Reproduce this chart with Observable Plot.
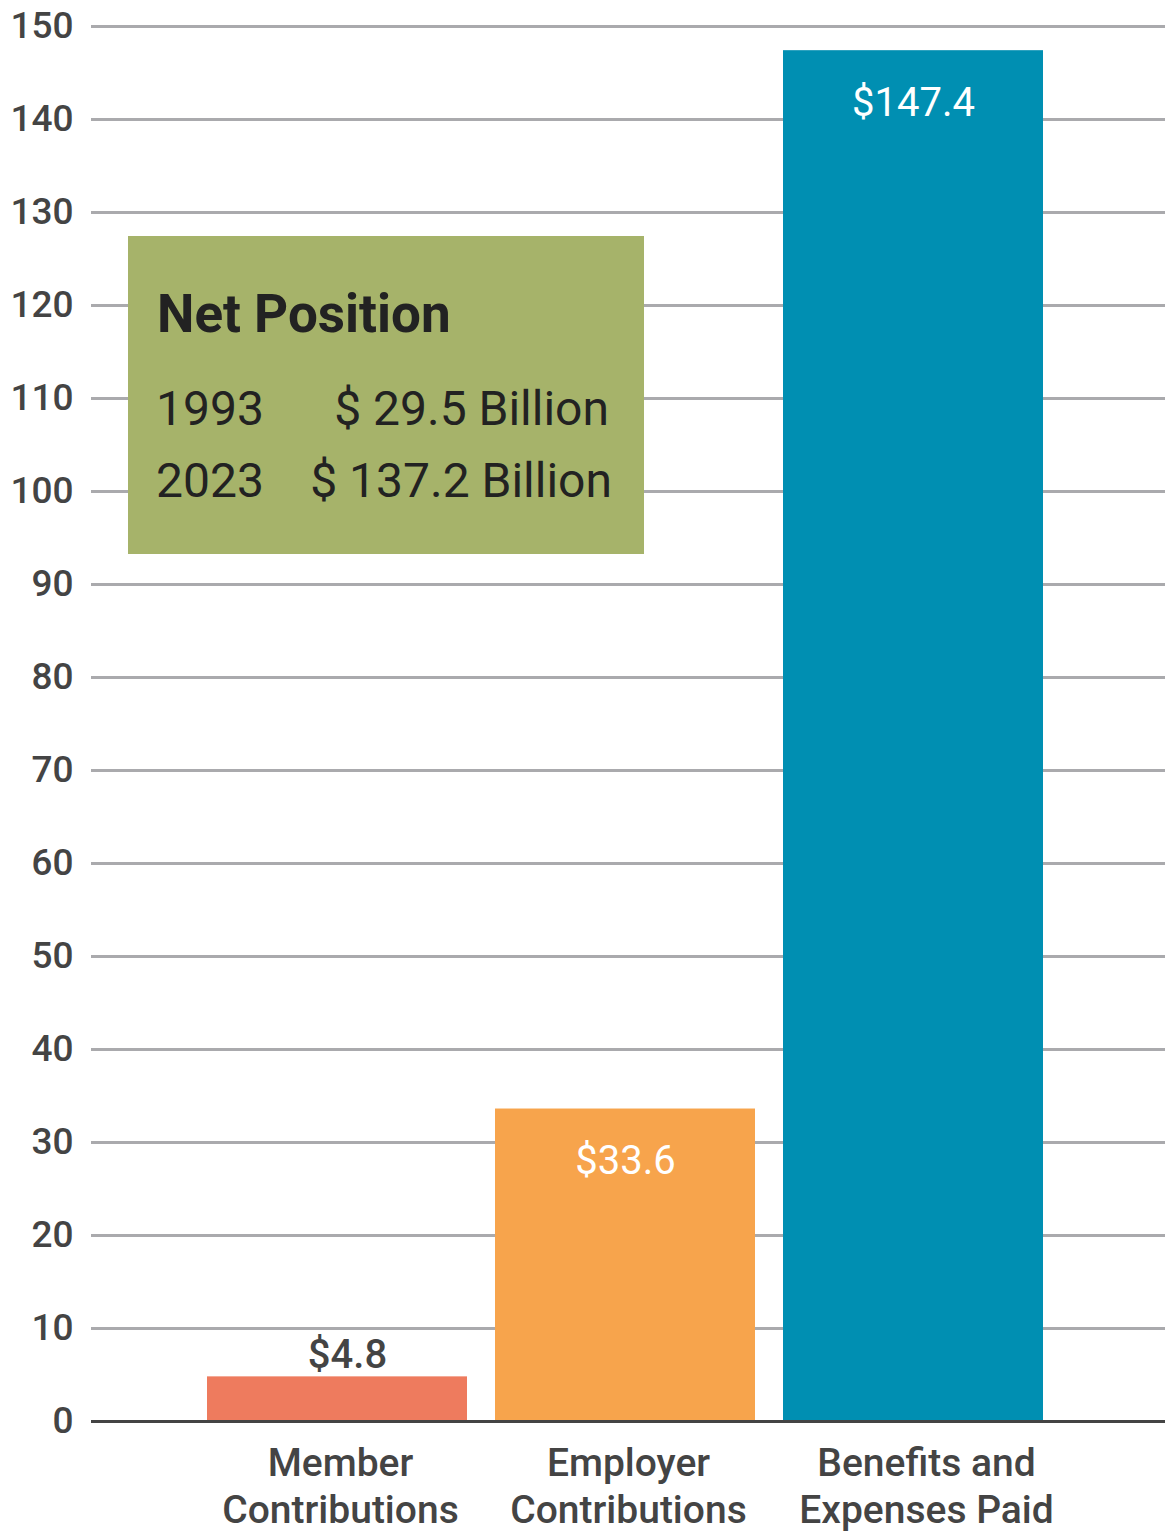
<!DOCTYPE html>
<html>
<head>
<meta charset="utf-8">
<script src="https://cdn.jsdelivr.net/npm/d3@7"></script>
<script src="https://cdn.jsdelivr.net/npm/@observablehq/plot@0.6"></script>
<style>
  html, body { margin: 0; padding: 0; background: #fff; }
  #wrap { position: relative; width: 1165px; height: 1531px; font-family: Roboto, "Noto Sans", sans-serif; }
  #wrap svg { display: block; }
  #box { position: absolute; left: 128px; top: 236px; width: 516px; height: 318px; background: #a6b36a; }
</style>
</head>
<body>
<div id="wrap"></div>
<script>
// ---- data ----
const categories = ["Member Contributions", "Employer Contributions", "Benefits and Expenses Paid"];
const categoryLabels = ["Member\nContributions", "Employer\nContributions", "Benefits and\nExpenses Paid"];
const values = [4.8, 33.6, 147.4];
const valueLabels = ["$4.8", "$33.6", "$147.4"];
const barColors = ["#ee7b5e", "#f7a44c", "#008fb2"];
const yTicks = [0, 10, 20, 30, 40, 50, 60, 70, 80, 90, 100, 110, 120, 130, 140, 150];
const netTitle = "Net Position";
const netYears = ["1993", "2023"];
const netAmounts = ["$ 29.5 Billion", "$ 137.2 Billion"];

const rows = categories.map((c, i) => ({
  category: c, label: categoryLabels[i], value: values[i], text: valueLabels[i], color: barColors[i]
}));

const chart = Plot.plot({
  width: 1165,
  height: 1531,
  marginTop: 26,
  marginBottom: 110,
  marginLeft: 91,
  marginRight: 0,
  style: { fontFamily: "Roboto, sans-serif", background: "#fff" },
  x: { type: "band", domain: categories, range: [193, 1057], paddingInner: 28 / 288, paddingOuter: 14 / 288, axis: null },
  y: { domain: [0, 150], axis: null },
  color: { type: "identity" },
  marks: [
    Plot.ruleY(yTicks.filter(t => t > 0), { y: d => d, stroke: "#aaaaad", strokeWidth: 3 }),
    Plot.axisY(yTicks, { label: null, tickSize: 0, tickPadding: 18, fontSize: 37, fontWeight: 500, fill: "#444", tickFormat: d => String(d) }),
    Plot.barY(rows, { x: "category", y: "value", fill: "color" }),
    Plot.ruleY([0], { stroke: "#444", strokeWidth: 3 }),
    Plot.text(rows.filter(d => d.value < 10), { x: "category", y: "value", text: "text", lineAnchor: "bottom", dy: -9, dx: 10, fontSize: 40, fontWeight: 500, fill: "#444" }),
    Plot.text(rows.filter(d => d.value >= 10), { x: "category", y: "value", text: "text", lineAnchor: "bottom", dy: 65, fontSize: 40, fill: "#fff" }),
    Plot.text(rows.slice(0, 2), { x: "category", y: () => 0, text: "label", lineAnchor: "top", dy: 21, dx: 3, fontSize: 39, fontWeight: 500, lineHeight: 1.2, fill: "#444" }),
    Plot.text(rows.slice(2), { x: "category", y: () => 0, text: "label", lineAnchor: "top", dy: 21, dx: 13, fontSize: 39, fontWeight: 500, lineHeight: 1.2, fill: "#444" })
  ]
});

const wrap = document.getElementById("wrap");
wrap.appendChild(chart);

// Net Position annotation box
const box = document.createElement("div");
box.id = "box";
const svg = d3.create("svg").attr("width", 516).attr("height", 318)
  .style("font-family", "Roboto, sans-serif");
svg.append("text").attr("x", 29).attr("y", 96).attr("font-size", 53).attr("font-weight", 700)
  .attr("fill", "#222").text(netTitle);
netYears.forEach((yr, i) => {
  const base = 189 + i * 72;
  svg.append("text").attr("x", 28).attr("y", base).attr("font-size", 48).attr("fill", "#222").text(yr);
  svg.append("text").attr("x", 481 + i * 3).attr("y", base).attr("text-anchor", "end")
    .attr("font-size", 48).attr("fill", "#222").text(netAmounts[i]);
});
box.appendChild(svg.node());
wrap.appendChild(box);
</script>
</body>
</html>
